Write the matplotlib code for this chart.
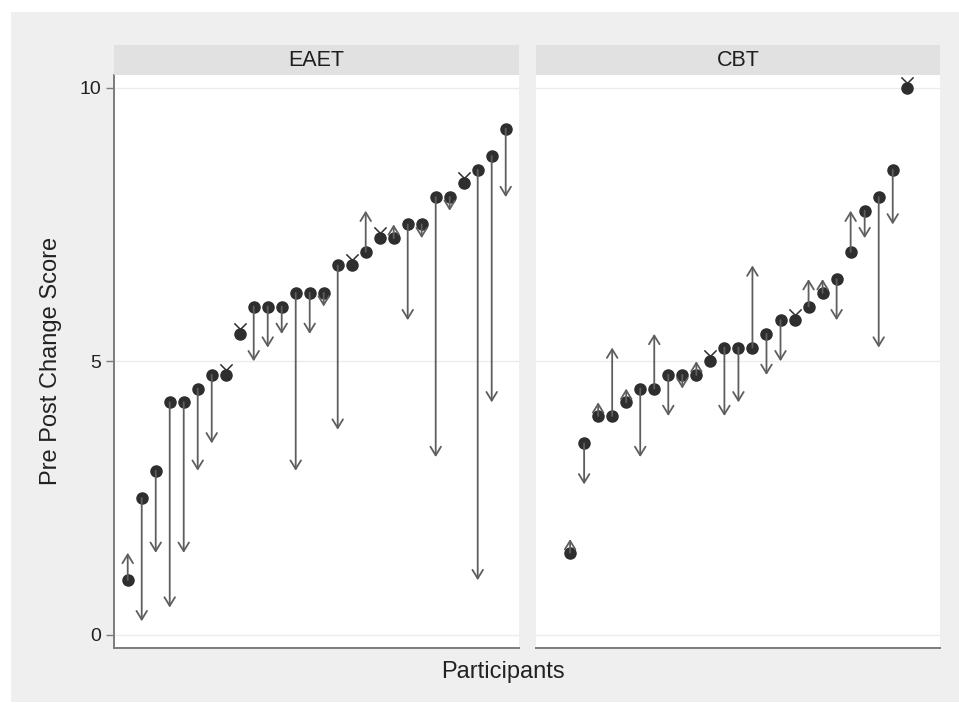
import matplotlib
matplotlib.use('Agg')
import matplotlib.pyplot as plt
from matplotlib.path import Path
from matplotlib.patches import Rectangle

plt.rcParams['font.family'] = ['Liberation Sans', 'DejaVu Sans']

# pre / post scores per participant, sorted by pre score
eaet_pre = [1.0, 2.5, 3.0, 4.25, 4.25, 4.5, 4.75, 4.75, 5.5, 6.0, 6.0, 6.0, 6.25, 6.25,
            6.25, 6.75, 6.75, 7.0, 7.25, 7.25, 7.5, 7.5, 8.0, 8.0, 8.25, 8.5, 8.75, 9.25]
eaet_post = [1.5, 0.25, 1.5, 0.5, 1.5, 3.0, 3.5, 4.75, 5.5, 5.0, 5.25, 5.5, 3.0, 5.5,
             6.0, 3.75, 6.75, 7.75, 7.25, 7.5, 5.75, 7.25, 3.25, 7.75, 8.25, 1.0, 4.25, 8.0]
cbt_pre = [1.5, 3.5, 4.0, 4.0, 4.25, 4.5, 4.5, 4.75, 4.75, 4.75, 5.0, 5.25, 5.25,
           5.25, 5.5, 5.75, 5.75, 6.0, 6.25, 6.5, 7.0, 7.75, 8.0, 8.5, 10.0]
cbt_post = [1.75, 2.75, 4.25, 5.25, 4.5, 3.25, 5.5, 4.0, 4.5, 5.0, 5.0, 4.0, 4.25,
            6.75, 4.75, 5.0, 5.75, 6.5, 6.5, 5.75, 7.75, 7.25, 5.25, 7.5, 10.0]
groups = ['EAET', 'CBT']
yticks = [0, 5, 10]

W, H = 959, 703
fig = plt.figure(figsize=(W / 100, H / 100), dpi=100, facecolor='white')

# outer gray region
fig.add_artist(Rectangle((11 / W, 1 / H), (W - 11) / W, 690 / H, transform=fig.transFigure,
                         facecolor='#efefef', edgecolor='none', zorder=0))

# zero-change marker ("ears" above the dot)
ears = Path([(-0.55, 1.0), (0, 0.45), (0.55, 1.0)],
            [Path.MOVETO, Path.LINETO, Path.LINETO])

dot_col = '#2e2e2e'
arr_col = '#5e5e5e'
axis_col = '#7c7c7c'

panels = [
    (114, 405, eaet_pre, eaet_post, (0.02, 28.95)),
    (536, 404, cbt_pre, cbt_post, (-1.43, 27.37)),
]
top_px, bot_px = 75, 647.5
for i, (x0, w, pre, post, xl) in enumerate(panels):
    ax = fig.add_axes([x0 / W, (H - bot_px) / H, w / W, (bot_px - top_px) / H])
    ax.set_facecolor('white')
    ax.set_xlim(*xl)
    ax.set_ylim(-0.23, 10.23)
    for yv in yticks:
        ax.axhline(yv, color='#ececec', lw=1.0, zorder=0)
    xs = list(range(1, len(pre) + 1))
    ax.plot(xs, pre, 'o', color=dot_col, ms=8, mec=dot_col, zorder=3, clip_on=False)
    for x, a, b in zip(xs, pre, post):
        if a == b:
            ax.plot([x], [a], marker=ears, ms=16, color=dot_col, mfc='none',
                    mew=1.1, zorder=4, clip_on=False)
        else:
            ax.annotate('', xy=(x, b), xytext=(x, a),
                        arrowprops=dict(arrowstyle='->,head_length=0.62,head_width=0.38',
                                        color=arr_col, lw=1.3, shrinkA=0, shrinkB=0,
                                        mutation_scale=10),
                        zorder=4)
    for s in ['top', 'right']:
        ax.spines[s].set_visible(False)
    ax.spines['bottom'].set_color(axis_col)
    ax.spines['bottom'].set_linewidth(1.4)
    ax.set_xticks([])
    if i == 0:
        ax.spines['left'].set_color(axis_col)
        ax.spines['left'].set_linewidth(1.4)
        ax.set_yticks(yticks)
        ax.set_yticklabels([str(t) for t in yticks])
        ax.tick_params(axis='y', length=6, width=1.0, color=axis_col, pad=3,
                       labelsize=14, labelcolor='#222222')
        ax.set_ylabel('Pre Post Change Score', fontsize=17, color='#222222', labelpad=13)
    else:
        ax.spines['left'].set_visible(False)
        ax.set_yticks([])

    # strip header
    sx = fig.add_axes([x0 / W, (H - top_px) / H, w / W, 30 / H])
    sx.set_facecolor('#e1e1e1')
    sx.set_xticks([])
    sx.set_yticks([])
    for s in sx.spines.values():
        s.set_visible(False)
    sx.text(0.5, 0.5, groups[i], ha='center', va='center', fontsize=15.5,
            color='#1e1e1e', transform=sx.transAxes)

fig.text(503 / W, (H - 672) / H, 'Participants', ha='center', va='center',
         fontsize=17, color='#222222')

fig.savefig('out.png', dpi=100, facecolor='white')
